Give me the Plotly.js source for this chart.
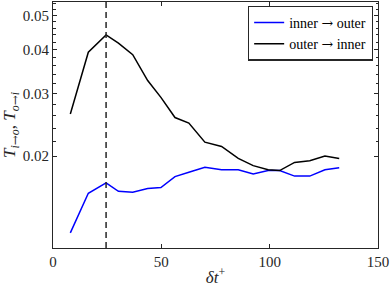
<!DOCTYPE html>
<html>
<head>
<meta charset="utf-8">
<script src="https://cdn.plot.ly/plotly-3.0.1.min.js"></script>
<style>
html,body{margin:0;padding:0;background:#fff;}
#chart{width:390px;height:287px;}
</style>
</head>
<body>
<div id="chart"></div>
<script>
var dtPlus = [8, 16.3, 24.5, 30.2, 36.8, 43.7, 49.8, 56.3, 62.7, 70.1, 77.8, 85.5, 92.4, 99.3, 104.6, 111.5, 118.5, 125.5, 132.1];
var innerToOuter = [0.01214, 0.0157, 0.0168, 0.0159, 0.0158, 0.0162, 0.0163, 0.0175, 0.0180, 0.0186, 0.0183, 0.0183, 0.0178, 0.0182, 0.0182, 0.01756, 0.01756, 0.0183, 0.01854];
var outerToInner = [0.0263, 0.0393, 0.0440, 0.0417, 0.0387, 0.0327, 0.0293, 0.0257, 0.0248, 0.0219, 0.0213, 0.0197, 0.0188, 0.0183, 0.0182, 0.0192, 0.0194, 0.0200, 0.0197];
var arrow = '<span style="font-family:DejaVu Serif">\u2192</span>';
var seriesNames = ['inner ' + arrow + ' outer', 'outer ' + arrow + ' inner'];
var markerX = 24.5;
var yTickVals = [0.02, 0.03, 0.04, 0.05];
var yTickText = ['0.02', '0.03', '0.04', '0.05'];
var xTickVals = [0, 50, 100, 150];

var minorVals = [];
for (var k = 11; k <= 27; k++) { var v = k * 0.002; if (yTickVals.indexOf(Math.round(v*1000)/1000) < 0) minorVals.push(v); }

var serif = 'Liberation Serif, Times New Roman, serif';

var traces = [
  {x: dtPlus, y: innerToOuter, name: seriesNames[0], type: 'scatter', mode: 'lines',
   line: {color: '#0000ff', width: 1.5}},
  {x: dtPlus, y: outerToInner, name: seriesNames[1], type: 'scatter', mode: 'lines',
   line: {color: '#000000', width: 1.5}}
];

var layout = {
  width: 390, height: 287,
  margin: {l: 53, r: 12, t: 2, b: 39},
  paper_bgcolor: '#fff', plot_bgcolor: '#fff',
  font: {family: serif, size: 15, color: '#262626'},
  showlegend: true,
  legend: {x: 0.9845, xanchor: 'right', y: 0.985, yanchor: 'top',
    bgcolor: '#fff', bordercolor: '#262626', borderwidth: 1.2,
    font: {family: serif, size: 14, color: '#000'}, itemwidth: 30, tracegroupgap: 0},
  xaxis: {range: [0, 150], tickvals: xTickVals, ticktext: xTickVals.map(String),
    ticks: 'inside', ticklen: 4, tickwidth: 1, tickcolor: '#262626',
    showline: true, linecolor: '#262626', linewidth: 1, mirror: 'allticks',
    showgrid: false, zeroline: false,
    tickfont: {family: serif, size: 15, color: '#262626'},
    title: {text: '<i>\u03b4t</i><sup>+</sup>', font: {family: serif, size: 17, color: '#262626'}, standoff: 4}},
  yaxis: {type: 'log', range: [Math.log10(0.011), Math.log10(0.0545)],
    tickvals: yTickVals, ticktext: yTickText,
    ticks: 'inside', ticklen: 4, tickwidth: 1, tickcolor: '#262626',
    minor: {tickvals: minorVals, ticks: 'inside', ticklen: 2.5, tickcolor: '#262626', showgrid: false},
    showline: true, linecolor: '#262626', linewidth: 1, mirror: 'allticks',
    showgrid: false, zeroline: false,
    tickfont: {family: serif, size: 15, color: '#262626'},
    title: {text: '<i>T</i><sub><i>i</i>' + arrow + '<i>o</i></sub>, <i>T</i><sub><i>o</i>' + arrow + '<i>i</i></sub>',
      font: {family: serif, size: 17, color: '#262626'}, standoff: 3}},
  shapes: [{type: 'line', xref: 'x', yref: 'paper', x0: markerX, x1: markerX, y0: 0, y1: 1,
    line: {color: '#262626', width: 1.5, dash: '6px,4px'}}]
};

Plotly.newPlot('chart', traces, layout, {staticPlot: true, displayModeBar: false});
</script>
</body>
</html>
